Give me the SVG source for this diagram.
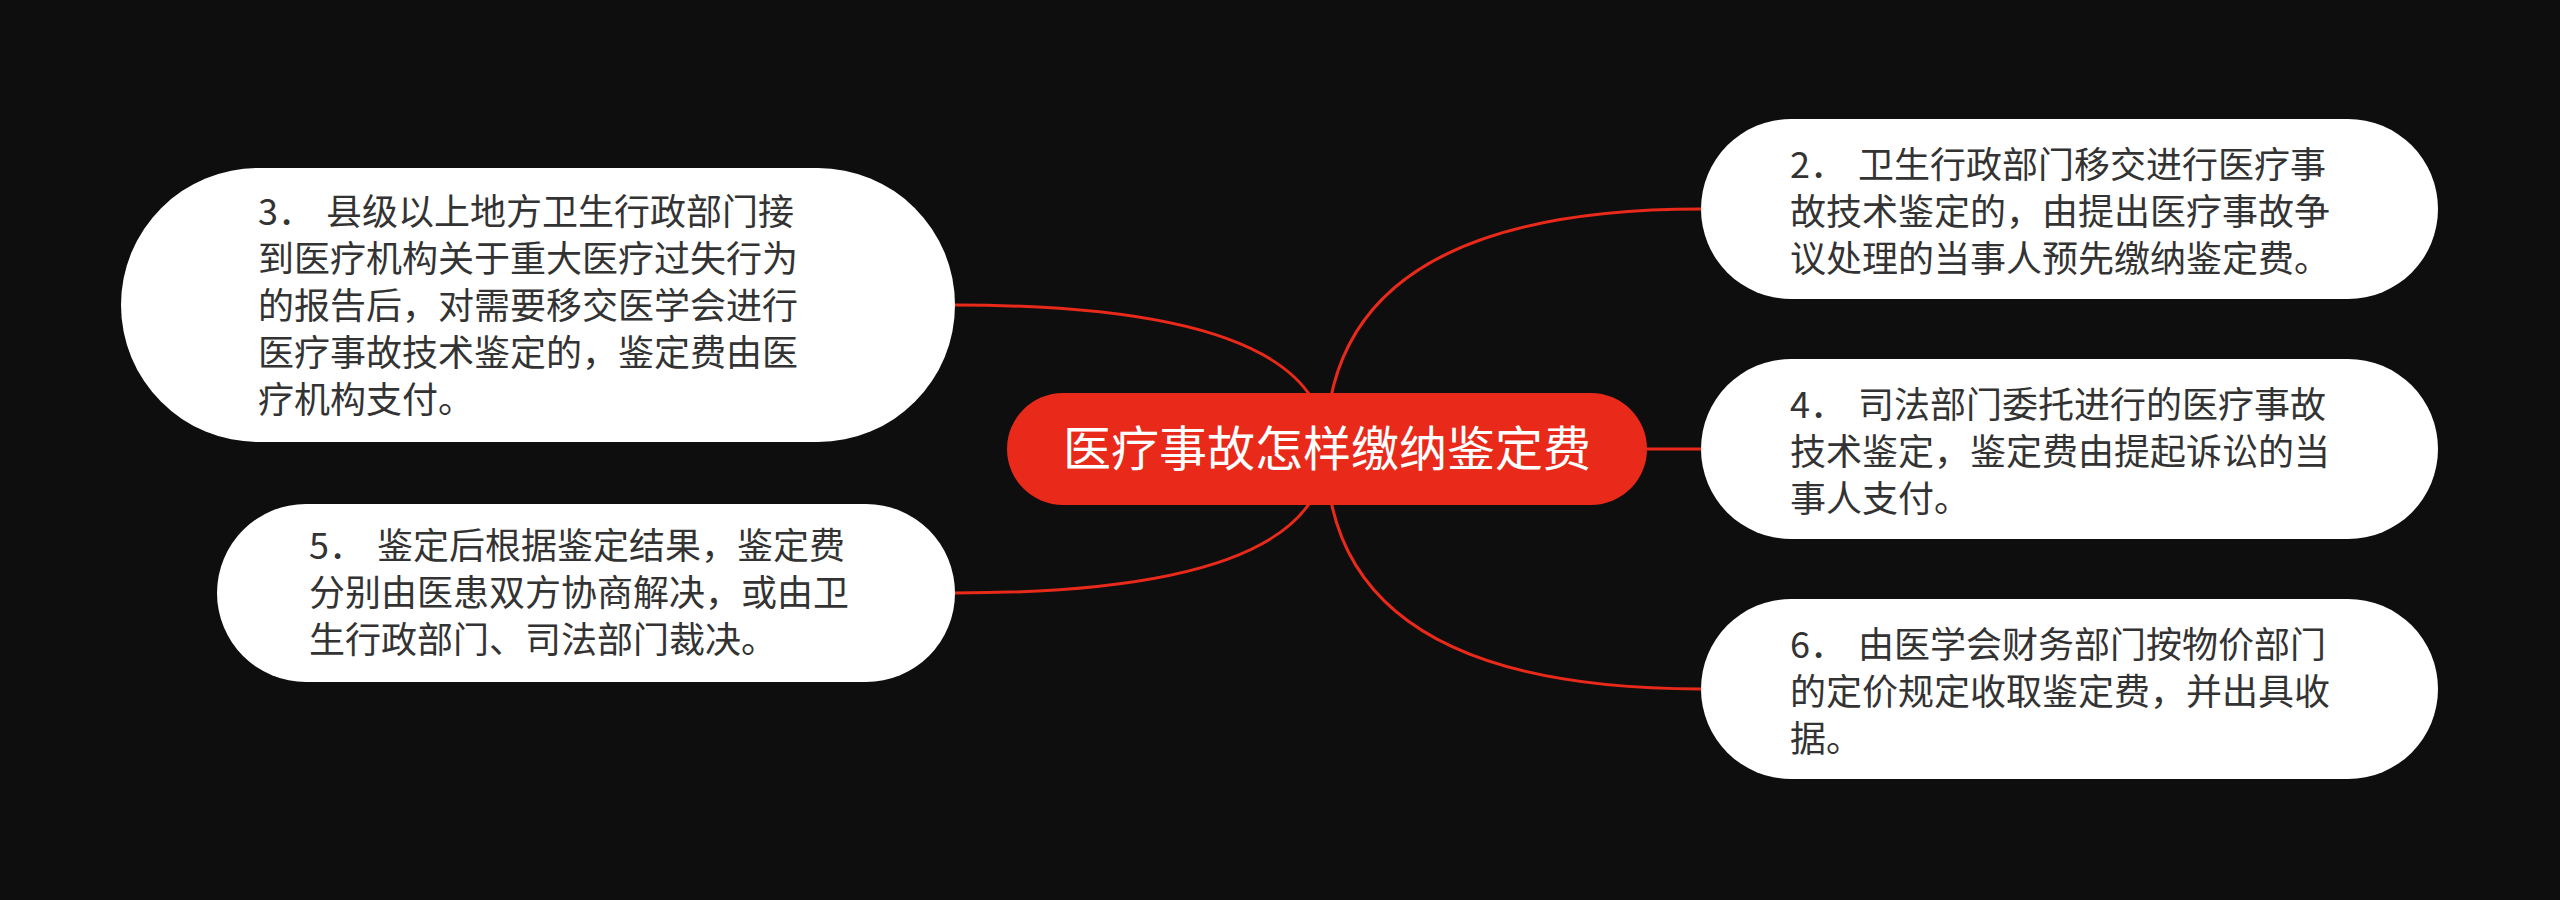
<svg xmlns="http://www.w3.org/2000/svg" width="2560" height="900" viewBox="0 0 2560 900">
<style>
.bg{fill:#0e0e0e}
.edge{fill:none;stroke:#e9291a;stroke-width:3}
.root{fill:#e9291a}
.box{fill:#ffffff}
.rt{font-family:"Noto Sans CJK SC","Noto Sans",sans-serif;font-size:48px;fill:#ffffff}
.t{font-family:"Noto Sans CJK SC","Noto Sans",sans-serif;font-size:36px;fill:#333333}
</style>
<rect class="bg" x="0" y="0" width="2560" height="900"/>
<g id="connectors">
<path class="edge" d="M1326 449 Q1326 305 955 305"/>
<path class="edge" d="M1326 449 Q1326 593 955 593"/>
<path class="edge" d="M1326 449 Q1326 209 1701 209"/>
<path class="edge" d="M1326 449 L1701 449"/>
<path class="edge" d="M1326 449 Q1326 689 1701 689"/>
</g>
<g id="root">
<rect class="root" x="1007" y="393" width="640" height="112" rx="56"/>
<text class="rt" x="1327" y="466" text-anchor="middle">医疗事故怎样缴纳鉴定费</text>
</g>
<g id="node3">
<rect class="box" x="121" y="168" width="834" height="274" rx="137"/>
<text class="t">
<tspan x="258" y="225">3．</tspan><tspan x="326" y="225">县级以上地方卫生行政部门接</tspan>
<tspan x="258" y="272">到医疗机构关于重大医疗过失行为</tspan>
<tspan x="258" y="319">的报告后，对需要移交医学会进行</tspan>
<tspan x="258" y="366">医疗事故技术鉴定的，鉴定费由医</tspan>
<tspan x="258" y="413">疗机构支付。</tspan>
</text>
</g>
<g id="node5">
<rect class="box" x="217" y="504" width="738" height="178" rx="89"/>
<text class="t">
<tspan x="309" y="559">5．</tspan><tspan x="377" y="559">鉴定后根据鉴定结果，鉴定费</tspan>
<tspan x="309" y="606">分别由医患双方协商解决，或由卫</tspan>
<tspan x="309" y="653">生行政部门、司法部门裁决。</tspan>
</text>
</g>
<g id="node2">
<rect class="box" x="1701" y="119" width="737" height="180" rx="90"/>
<text class="t">
<tspan x="1790" y="178">2．</tspan><tspan x="1858" y="178">卫生行政部门移交进行医疗事</tspan>
<tspan x="1790" y="225">故技术鉴定的，由提出医疗事故争</tspan>
<tspan x="1790" y="272">议处理的当事人预先缴纳鉴定费。</tspan>
</text>
</g>
<g id="node4">
<rect class="box" x="1701" y="359" width="737" height="180" rx="90"/>
<text class="t">
<tspan x="1790" y="418">4．</tspan><tspan x="1858" y="418">司法部门委托进行的医疗事故</tspan>
<tspan x="1790" y="465">技术鉴定，鉴定费由提起诉讼的当</tspan>
<tspan x="1790" y="512">事人支付。</tspan>
</text>
</g>
<g id="node6">
<rect class="box" x="1701" y="599" width="737" height="180" rx="90"/>
<text class="t">
<tspan x="1790" y="658">6．</tspan><tspan x="1858" y="658">由医学会财务部门按物价部门</tspan>
<tspan x="1790" y="705">的定价规定收取鉴定费，并出具收</tspan>
<tspan x="1790" y="752">据。</tspan>
</text>
</g>
</svg>
